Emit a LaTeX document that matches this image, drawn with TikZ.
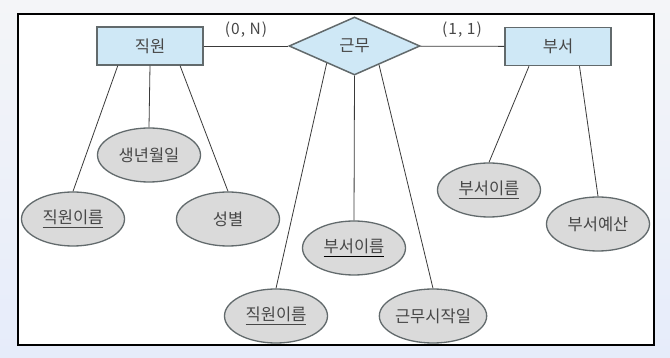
\documentclass[tikz,border=0pt]{standalone}
\usepackage{fontspec}
\setmainfont{Noto Sans CJK KR}
\newfontfamily\cardfont[LetterSpace=7]{Noto Sans CJK KR}
\usetikzlibrary{shapes.geometric,calc}

\definecolor{bgtop}{HTML}{F4F5F8}
\definecolor{bgbot}{HTML}{E6ECFA}
\definecolor{entfill}{HTML}{CFE8F6}
\definecolor{attrfill}{HTML}{DADADA}
\definecolor{edgegray}{HTML}{626A6C}
\definecolor{txtgray}{HTML}{474747}
\definecolor{linkgray}{HTML}{3A3A3A}

% key attribute: text with a rule under it
\newcommand{\keyattr}[2][txtgray]{\setbox0\hbox{#2}\rlap{\color{#1}\rule[-4pt]{\wd0}{1.1pt}}\box0}

\begin{document}
\begin{tikzpicture}[x=1pt, y=-1pt, font=\fontsize{16.5}{19}\selectfont, text=txtgray,
  entity/.style={draw=edgegray, line width=1.5pt, fill=entfill, minimum width=106pt, minimum height=38pt, inner sep=0pt},
  relship/.style={diamond, draw=edgegray, line width=1.5pt, fill=entfill, minimum width=131pt, minimum height=58pt, inner sep=0pt},
  attr/.style={ellipse, draw=edgegray, line width=1.3pt, fill=attrfill, minimum width=103pt, minimum height=54pt, inner sep=0pt},
  link/.style={draw=linkgray, line width=0.8pt},
  card/.style={font=\cardfont\fontsize{15.5}{18}\selectfont}]
% ER diagram: employee works in department
\shade[top color=bgtop, bottom color=bgbot] (0,0) rectangle (670,358);
\useasboundingbox (0,0) rectangle (670,358);
\draw[line width=1.7pt, fill=white] (18,14) rectangle (654,345);

\node[entity] (emp) at (150,46) {직원};
\node[relship] (work) at (354.5,46) {근무};
\node[entity] (dept) at (558,46.5) {부서};
\node[card] (cardemp) at (246,30) {(0, N)};
\node[card] (carddept) at (462,30) {(1, 1)};

\node[attr] (birth) at (149,155) {생년월일};
\node[attr] (empname) at (73,219) {\keyattr{직원이름}};
\node[attr] (gender) at (228,219) {성별};
\node[attr] (wempname) at (276,316) {\keyattr{직원이름}};
\node[attr] (wdeptname) at (354,248) {\keyattr[black]{부서이름}};
\node[attr] (wstart) at (433,316) {근무시작일};
\node[attr] (deptname) at (489,190) {\keyattr{부서이름}};
\node[attr] (budget) at (598,224) {부서예산};

\draw[link] (emp) -- (work);
\draw[link] (work) -- (dept);

\draw[link] ($(emp.south west)!0.2!(emp.south east)$) -- (empname.north);
\draw[link] (emp.south) -- (birth.north);
\draw[link] ($(emp.south west)!0.78!(emp.south east)$) -- (gender.north);

\draw[link] ($(work.west)!0.58!(work.south)$) -- (wempname.north);
\draw[link] (work.south) -- (wdeptname.north);
\draw[link] ($(work.south)!0.37!(work.east)$) -- (wstart.north);

\draw[link] ($(dept.south west)!0.23!(dept.south east)$) -- (deptname.north);
\draw[link] ($(dept.south west)!0.7!(dept.south east)$) -- (budget.north);
\end{tikzpicture}
\end{document}
